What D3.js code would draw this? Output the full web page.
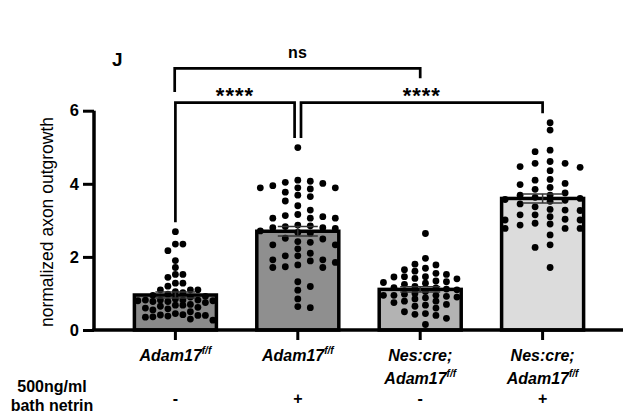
<!DOCTYPE html>
<html>
<head>
<meta charset="utf-8">
<script src="https://cdn.jsdelivr.net/npm/d3@7/dist/d3.min.js"></script>
<style>
  body { margin: 0; background: #fff; }
  svg { font-family: "Liberation Sans", Arial, sans-serif; }
  text { fill: #000; }
</style>
</head>
<body>
<svg id="svg1" width="628" height="418"></svg>
<script>
// values
var groups = ['g1', 'g2', 'g3', 'g4'];
var labelTop = ['Adam17', 'Adam17', 'Nes:cre;', 'Nes:cre;'];
var labelBottom = ['', '', 'Adam17', 'Adam17'];
var netrinRow = ['-', '+', '-', '+'];
var yTicks = [0, 2, 4, 6];

var adamCtl = [2.69, 2.35, 2.35, 2.17, 1.90, 1.71, 1.52, 1.52, 1.44, 1.28, 1.28, 1.20, 1.10, 1.10, 1.10,
  1.05, 1.02, 0.98, 0.95, 0.92, 0.90, 0.85, 0.82, 0.82, 0.82, 0.82, 0.80, 0.80, 0.78, 0.78, 0.75,
  0.70, 0.68, 0.68, 0.65, 0.62, 0.60, 0.58, 0.55, 0.50, 0.45, 0.42, 0.41, 0.40, 0.40, 0.38, 0.36,
  0.35, 0.30, 0.27];
var adamNetrin = [4.99, 4.10, 4.07, 4.04, 4.01, 3.95, 3.89, 3.89, 3.89, 3.86, 3.77, 3.69, 3.65, 3.53, 3.40,
  3.28, 3.16, 3.13, 3.10, 3.06, 3.06, 3.06, 2.87, 2.85, 2.83, 2.80, 2.80, 2.78, 2.71, 2.67, 2.65,
  2.51, 2.49, 2.42, 2.40, 2.33, 2.33, 2.22, 2.10, 2.03, 2.03, 1.92, 1.92, 1.89, 1.85, 1.78, 1.73,
  1.71, 1.71, 1.32, 1.19, 1.09, 0.85, 0.64, 0.61];
var nesCtl = [2.64, 1.96, 1.80, 1.78, 1.69, 1.65, 1.61, 1.55, 1.52, 1.46, 1.46, 1.45, 1.41, 1.40, 1.34,
  1.32, 1.30, 1.28, 1.25, 1.19, 1.16, 1.15, 1.12, 1.10, 1.05, 1.00, 0.98, 0.95, 0.95, 0.95, 0.92,
  0.90, 0.88, 0.85, 0.79, 0.79, 0.75, 0.70, 0.68, 0.65, 0.60, 0.50, 0.45, 0.43, 0.40, 0.32, 0.15];
var nesNetrin = [5.67, 5.47, 4.92, 4.88, 4.61, 4.56, 4.56, 4.47, 4.45, 4.36, 4.12, 4.10, 4.01, 3.98, 3.90,
  3.85, 3.75, 3.69, 3.69, 3.63, 3.60, 3.57, 3.55, 3.52, 3.45, 3.37, 3.30, 3.28, 3.27, 3.15, 3.15,
  3.10, 3.03, 3.01, 3.01, 2.92, 2.90, 2.87, 2.78, 2.78, 2.78, 2.60, 2.33, 2.26, 1.71];

var series = [adamCtl, adamNetrin, nesCtl, nesNetrin];

// pairs compared and their stars
var pairA = [0, 1, 0];
var pairB = [1, 3, 2];
var pairText = ['****', '****', 'ns'];

// look
var barFill = ['#8a8a8a', '#8f8f8f', '#b3b3b3', '#dcdcdc'];
var swarmStep = [7.5, 12.5, 10.5, 15];
var swarmEven = [false, false, true, true];
var dotR = 3.4;

var svg = d3.select('#svg1');

var x = d3.scaleBand()
    .domain(groups)
    .range([94, 624])
    .padding(0.33);

var y = d3.scaleLinear()
    .domain([0, 6])
    .range([330, 110.7]);

var cx = function(i){ return x(groups[i]) + x.bandwidth() / 2; };

// bars
var stats = series.map(function(vals){
    var m = d3.mean(vals);
    var sem = d3.deviation(vals) / Math.sqrt(vals.length);
    return {mean: m, sem: sem};
});

svg.selectAll('rect.bar')
    .data(stats)
    .enter()
    .append('rect')
    .attr('class', 'bar')
    .attr('x', function(d, i){ return x(groups[i]); })
    .attr('y', function(d){ return y(d.mean); })
    .attr('width', x.bandwidth())
    .attr('height', function(d){ return y(0) - y(d.mean); })
    .attr('fill', function(d, i){ return barFill[i]; })
    .attr('stroke', 'black')
    .attr('stroke-width', 3.5);

// simple column swarm so the dots don't sit on top of each other
function swarm(vals, step, even) {
    var offs = [];
    var maxOff = 38;
    var k;
    if (even) {
        for (k = 0.5; k * step <= maxOff; k++) offs.push(k * step, -k * step);
    } else {
        offs.push(0);
        for (k = 1; k * step <= maxOff; k++) offs.push(k * step, -k * step);
    }
    var placed = [];
    return vals.map(function(v){
        var py = y(v);
        var pick = offs[0], bestGap = -1;
        for (var j = 0; j < offs.length; j++) {
            var gap = Infinity;
            placed.forEach(function(p){
                if (p.o === offs[j]) gap = Math.min(gap, Math.abs(p.y - py));
            });
            if (gap >= dotR * 2) { pick = offs[j]; bestGap = gap; break; }
            if (gap > bestGap) { bestGap = gap; pick = offs[j]; }
        }
        placed.push({o: pick, y: py});
        return {o: pick, y: py};
    });
}

series.forEach(function(vals, i){
    var pts = swarm(vals, swarmStep[i], swarmEven[i]);
    svg.append('g')
        .selectAll('circle')
        .data(pts)
        .enter()
        .append('circle')
        .attr('cx', function(d){ return cx(i) + d.o; })
        .attr('cy', function(d){ return d.y; })
        .attr('r', dotR)
        .attr('fill', 'black');
});

// error bars (mean +- sem)
var eb = svg.append('g')
    .attr('stroke', '#333')
    .attr('stroke-width', 1.5);

stats.forEach(function(d, i){
    var c = cx(i);
    eb.append('line')
        .attr('x1', c).attr('x2', c)
        .attr('y1', y(d.mean + d.sem)).attr('y2', y(d.mean - d.sem));
    eb.append('line')
        .attr('x1', c - 20).attr('x2', c + 20)
        .attr('y1', y(d.mean + d.sem)).attr('y2', y(d.mean + d.sem));
    eb.append('line')
        .attr('x1', c - 20).attr('x2', c + 20)
        .attr('y1', y(d.mean - d.sem)).attr('y2', y(d.mean - d.sem));
});

// axes
var yAxis = svg.append('g')
    .attr('transform', 'translate(94,0)')
    .call(d3.axisLeft(y).tickValues(yTicks).tickFormat(d3.format('d')).tickSize(11).tickPadding(4));

yAxis.select('.domain').attr('stroke-width', 3.5).attr('d', 'M0,' + y(6) + 'V' + y(0));
yAxis.selectAll('.tick line').attr('stroke-width', 3);
yAxis.selectAll('.tick text')
    .attr('font-size', 16.5)
    .attr('font-weight', 'bold')
    .attr('font-family', '"Liberation Sans", Arial, sans-serif')
    .attr('fill', 'black');

var xAxis = svg.append('g')
    .attr('transform', 'translate(0,330)')
    .call(d3.axisBottom(x).tickSize(10).tickFormat(''));

xAxis.select('.domain').attr('stroke-width', 3.5).attr('d', 'M92.3,0H623');
xAxis.selectAll('.tick line').attr('stroke-width', 3);

// y label
svg.append('text')
    .attr('transform', 'translate(53,222) rotate(-90)')
    .attr('text-anchor', 'middle')
    .attr('font-size', 17.5)
    .text('normalized axon outgrowth');

// x labels
function genotype(sel) {
    sel.append('tspan').text('Adam17');
    sel.append('tspan').attr('font-size', 10).attr('dy', -7).text('f/f');
}

groups.forEach(function(g, i){
    var t1 = svg.append('text')
        .attr('x', cx(i)).attr('y', 361)
        .attr('text-anchor', 'middle')
        .attr('font-size', 16)
        .attr('font-weight', 'bold')
        .attr('font-style', 'italic');
    if (labelTop[i] === 'Adam17') genotype(t1); else t1.text(labelTop[i]);

    if (labelBottom[i]) {
        var t2 = svg.append('text')
            .attr('x', cx(i)).attr('y', 384)
            .attr('text-anchor', 'middle')
            .attr('font-size', 16)
            .attr('font-weight', 'bold')
            .attr('font-style', 'italic');
        genotype(t2);
    }

    svg.append('text')
        .attr('x', cx(i)).attr('y', 404)
        .attr('text-anchor', 'middle')
        .attr('font-size', 16)
        .attr('font-weight', 'bold')
        .text(netrinRow[i]);
});

svg.append('text')
    .attr('x', 52).attr('y', 392)
    .attr('text-anchor', 'middle')
    .attr('font-size', 16)
    .attr('font-weight', 'bold')
    .text('500ng/ml');

svg.append('text')
    .attr('x', 52).attr('y', 411)
    .attr('text-anchor', 'middle')
    .attr('font-size', 16)
    .attr('font-weight', 'bold')
    .text('bath netrin');

// panel letter
svg.append('text')
    .attr('x', 112).attr('y', 66)
    .attr('font-size', 19)
    .attr('font-weight', 'bold')
    .text('J');

// significance brackets
var br = svg.append('g')
    .attr('fill', 'none')
    .attr('stroke', 'black')
    .attr('stroke-width', 2.7);

var legGap = 9.5;
var lowY = 102.7, topY = 68.3;

// star brackets sit low, legs reach down to just above each group's dots
[0, 1].forEach(function(k){
    var a = pairA[k], b = pairB[k];
    var xa = cx(a) + (a === 1 ? 3.2 : 0);
    var xb = cx(b) - (b === 1 ? 3.2 : 0);
    var ya = y(d3.max(series[a])) - legGap;
    var yb = y(d3.max(series[b])) - legGap;
    br.append('path')
        .attr('d', 'M' + xa + ',' + ya + 'V' + lowY + 'H' + xb + 'V' + yb);
    svg.append('text')
        .attr('x', (xa + xb) / 2)
        .attr('y', 103)
        .attr('text-anchor', 'middle')
        .attr('font-size', 22)
        .attr('font-weight', 'bold')
        .attr('letter-spacing', 1)
        .text(pairText[k]);
});

// ns bracket on top
var na = cx(pairA[2]) - 0.7, nb = cx(pairB[2]);
br.append('path')
    .attr('d', 'M' + na + ',' + 92 + 'V' + topY + 'H' + nb + 'V' + 78.3);
svg.append('text')
    .attr('x', (na + nb) / 2)
    .attr('y', 58)
    .attr('text-anchor', 'middle')
    .attr('font-size', 16)
    .attr('font-weight', 'bold')
    .text(pairText[2]);
</script>
</body>
</html>
